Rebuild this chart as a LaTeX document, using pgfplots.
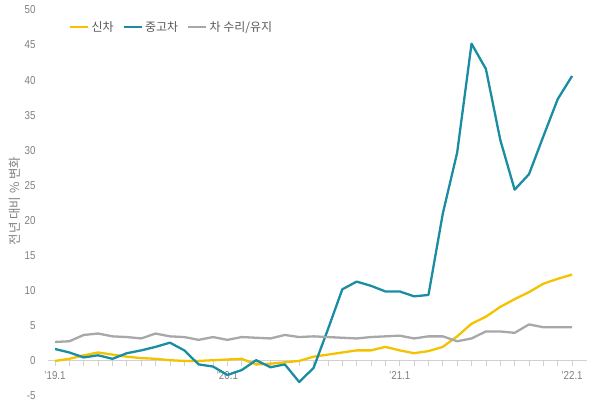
\documentclass[border=0pt]{standalone}
\usepackage{fontspec}
\setmainfont{Liberation Sans}[FakeStretch=0.85]
\newfontfamily\kr{Noto Sans CJK KR}
\usepackage{pgfplots}
\pgfplotsset{compat=1.18}
\definecolor{cyel}{HTML}{F5C200}
\definecolor{cteal}{HTML}{1A8DA3}
\definecolor{cgray}{HTML}{A8A8A8}
\definecolor{ctxt}{HTML}{808080}
\begin{document}
\begin{tikzpicture}[x=1bp,y=1bp]
\useasboundingbox (0,0) rectangle (601,401);
\begin{axis}[
  at={(48bp,5bp)}, anchor=south west,
  scale only axis, width=539bp, height=386bp,
  xmin=-0.49, xmax=37.04, ymin=-5, ymax=50,
  axis x line=middle, axis y line=left,
  x axis line style={-, draw=black!18, line width=1bp},
  y axis line style={draw=none},
  xtick={0,12,24,36},
  xticklabels={’19.1,’20.1,’21.1,’22.1},
  minor x tick num=11,
  tick align=outside,
  major tick length=5bp, minor tick length=5bp,
  x tick style={draw=black!18, line width=0.8bp},
  ytick={-5,0,5,10,15,20,25,30,35,40,45,50},
  major y tick style={draw=none},
  /pgf/number format/assume math mode=true,
  yticklabel style={text=ctxt, font=\fontsize{11.5}{11.5}\selectfont, xshift=-4bp},
  xticklabel style={text=ctxt, font=\fontsize{11.5}{11.5}\selectfont, yshift=-2bp},
  legend style={at={(axis description cs:0.033,0.956)}, anchor=west, draw=none, fill=none,
    legend columns=3, font=\kr\fontsize{12}{12}\selectfont, text=black!65,
    /tikz/every even column/.append style={column sep=7bp}},
  legend image code/.code={\draw[#1, line width=2.6bp] (0bp,0bp) -- (18bp,0bp);},
  every axis plot/.append style={line width=2.3bp, line join=round},
]
\addplot[cyel] coordinates {
(0,0.0)(1,0.3)(2,0.8)(3,1.2)(4,0.9)(5,0.6)(6,0.4)(7,0.3)(8,0.1)(9,0.0)
(10,0.0)(11,0.1)(12,0.2)(13,0.3)(14,-0.5)(15,-0.4)(16,-0.2)(17,0.0)(18,0.6)(19,0.9)
(20,1.2)(21,1.5)(22,1.5)(23,2.0)(24,1.5)(25,1.1)(26,1.4)(27,2.0)(28,3.5)(29,5.3)
(30,6.3)(31,7.7)(32,8.8)(33,9.8)(34,11.0)(35,11.7)(36,12.3)};
\addlegendentry{신차}
\addplot[cteal] coordinates {
(0,1.7)(1,1.2)(2,0.5)(3,0.8)(4,0.3)(5,1.1)(6,1.5)(7,2.0)(8,2.6)(9,1.5)
(10,-0.5)(11,-0.8)(12,-2.0)(13,-1.3)(14,0.1)(15,-0.9)(16,-0.5)(17,-3.0)(18,-1.0)(19,4.5)
(20,10.2)(21,11.3)(22,10.7)(23,9.9)(24,9.9)(25,9.2)(26,9.4)(27,21.0)(28,29.7)(29,45.2)
(30,41.6)(31,31.5)(32,24.4)(33,26.6)(34,32.0)(35,37.3)(36,40.6)};
\addlegendentry{중고차}
\addplot[cgray] coordinates {
(0,2.7)(1,2.8)(2,3.7)(3,3.9)(4,3.5)(5,3.4)(6,3.2)(7,3.9)(8,3.5)(9,3.4)
(10,3.0)(11,3.4)(12,3.0)(13,3.4)(14,3.3)(15,3.2)(16,3.7)(17,3.4)(18,3.5)(19,3.4)
(20,3.3)(21,3.2)(22,3.4)(23,3.5)(24,3.6)(25,3.2)(26,3.5)(27,3.5)(28,2.8)(29,3.2)
(30,4.2)(31,4.2)(32,4.0)(33,5.2)(34,4.8)(35,4.8)(36,4.8)};
\addlegendentry{차 수리/유지}
\end{axis}
\node[rotate=90, text=ctxt, font=\kr\fontsize{12.5}{12.5}\selectfont] at (15,200) {전년 대비 \% 변화};
\end{tikzpicture}
\end{document}
